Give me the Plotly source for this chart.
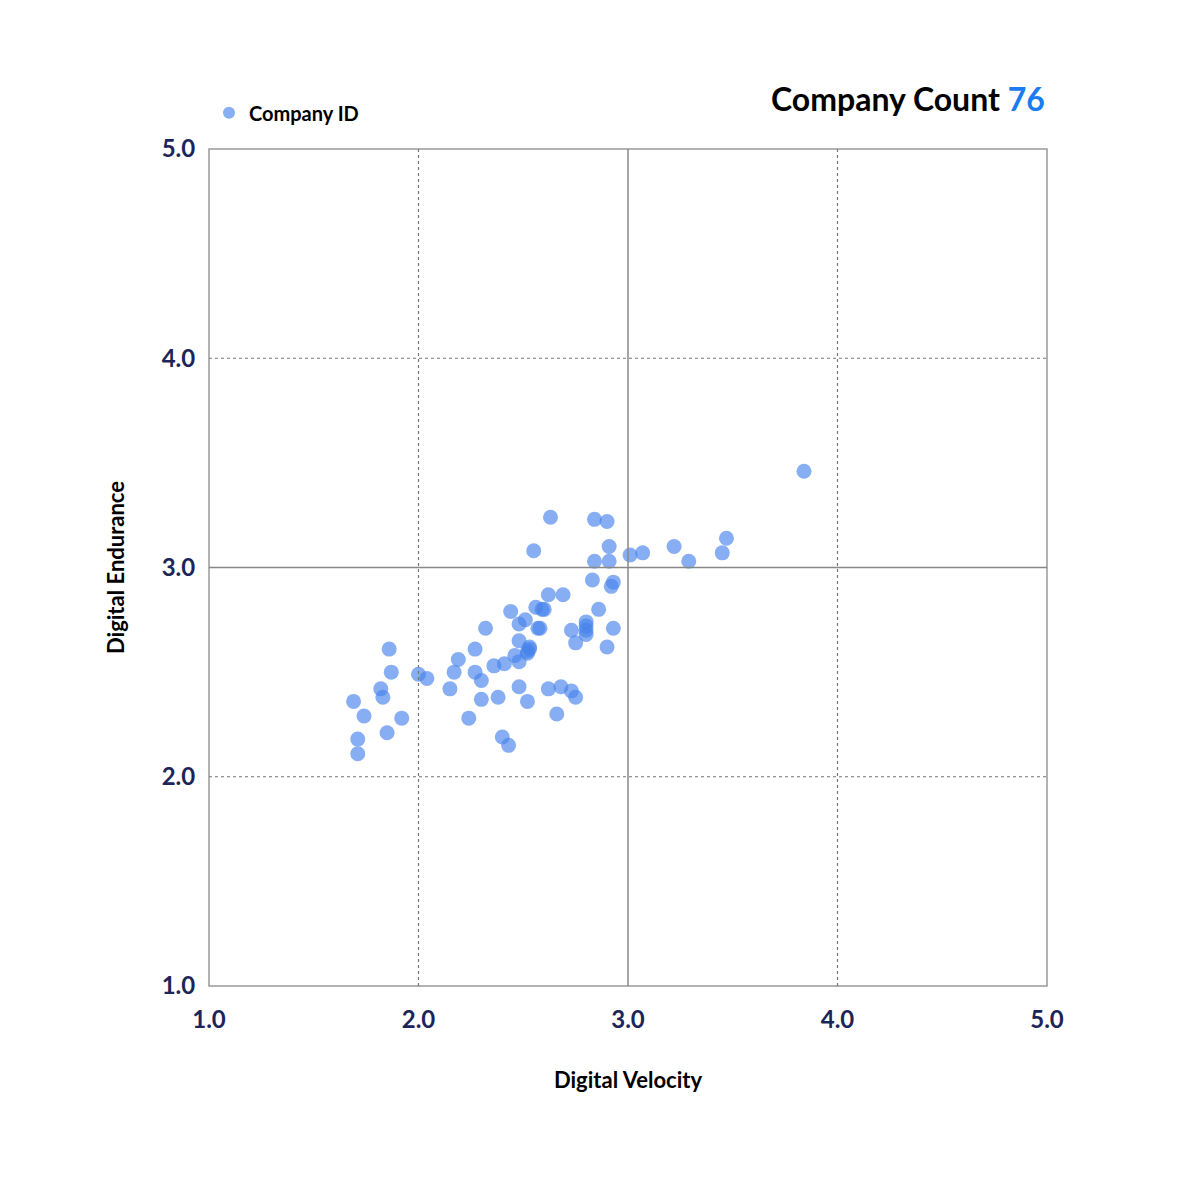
import plotly.graph_objects as go

velocity = [3.84,3.47,3.45,3.29,3.22,3.07,3.01,2.63,2.84,2.90,2.91,2.84,2.91,2.55,2.83,2.93,2.92,2.62,2.69,2.86,
            2.80,2.93,2.73,2.80,2.80,2.75,2.90,2.56,2.59,2.60,2.51,2.44,2.48,2.57,2.58,2.48,2.53,2.53,2.52,2.46,
            2.48,2.32,2.27,2.19,2.17,2.27,2.30,2.41,2.36,2.00,2.04,2.15,2.30,2.38,2.48,2.52,2.62,2.68,2.73,2.75,
            2.66,2.24,2.40,2.43,1.86,1.87,1.82,1.83,1.69,1.74,1.92,1.85,1.71,1.71,2.52,2.80]
endurance = [3.46,3.14,3.07,3.03,3.10,3.07,3.06,3.24,3.23,3.22,3.10,3.03,3.03,3.08,2.94,2.93,2.91,2.87,2.87,2.80,
             2.74,2.71,2.70,2.70,2.68,2.64,2.62,2.81,2.80,2.80,2.75,2.79,2.73,2.71,2.71,2.65,2.62,2.61,2.60,2.58,
             2.55,2.71,2.61,2.56,2.50,2.50,2.46,2.54,2.53,2.49,2.47,2.42,2.37,2.38,2.43,2.36,2.42,2.43,2.41,2.38,
             2.30,2.28,2.19,2.15,2.61,2.50,2.42,2.38,2.36,2.29,2.28,2.21,2.18,2.11,2.59,2.72]
ticks = [1, 2, 3, 4, 5]
tick_text = ["1.0", "2.0", "3.0", "4.0", "5.0"]

navy = "#1b2559"
fig = go.Figure()
fig.add_trace(go.Scatter(x=velocity, y=endurance, mode="markers", name="Company ID",
                         marker=dict(size=15, color="rgba(70,130,235,0.65)", line=dict(width=0))))

shapes = []
for v in [2, 4]:
    shapes.append(dict(type="line", xref="x", yref="paper", x0=v, x1=v, y0=0, y1=1,
                       line=dict(color="#777", width=1.2, dash="dot")))
    shapes.append(dict(type="line", xref="paper", yref="y", x0=0, x1=1, y0=v, y1=v,
                       line=dict(color="#777", width=1.2, dash="dot")))
shapes.append(dict(type="line", xref="x", yref="paper", x0=3, x1=3, y0=0, y1=1, line=dict(color="#888", width=1.5)))
shapes.append(dict(type="line", xref="paper", yref="y", x0=0, x1=1, y0=3, y1=3, line=dict(color="#888", width=1.5)))
shapes.append(dict(type="rect", xref="paper", yref="paper", x0=0, x1=1, y0=0, y1=1, line=dict(color="#999", width=1.5), layer="below"))

fig.update_layout(
    width=1200, height=1185, plot_bgcolor="white", paper_bgcolor="white",
    margin=dict(l=201, r=161, t=141, b=207),
    font=dict(family="Lato", color="black"),
    shapes=shapes,
    showlegend=True,
    legend=dict(x=0, y=1.02, xanchor="left", yanchor="bottom", orientation="h",
                font=dict(size=20, family="Lato", color="black", weight="bold"), itemsizing="constant"),
    xaxis=dict(range=[1, 5], tickvals=ticks, ticktext=tick_text, showgrid=False, zeroline=False,
               tickfont=dict(size=24, color=navy, weight="bold"), ticks="outside", ticklen=12, tickcolor="white",
               title=dict(text="Digital Velocity", font=dict(size=22, weight="bold"), standoff=40)),
    yaxis=dict(range=[1, 5], tickvals=ticks, ticktext=tick_text, showgrid=False, zeroline=False,
               tickfont=dict(size=24, color=navy, weight="bold"), ticks="outside", ticklen=8, tickcolor="white",
               title=dict(text="Digital Endurance", font=dict(size=22, weight="bold"), standoff=30)),
    annotations=[dict(xref="paper", yref="paper", x=1, y=1.035, xanchor="right", yanchor="bottom", showarrow=False,
                      text="Company Count <span style='color:#1a7cf0'>76</span>",
                      font=dict(size=32, family="Lato", color="black", weight="bold"))],
)
fig.write_html("out.html")
